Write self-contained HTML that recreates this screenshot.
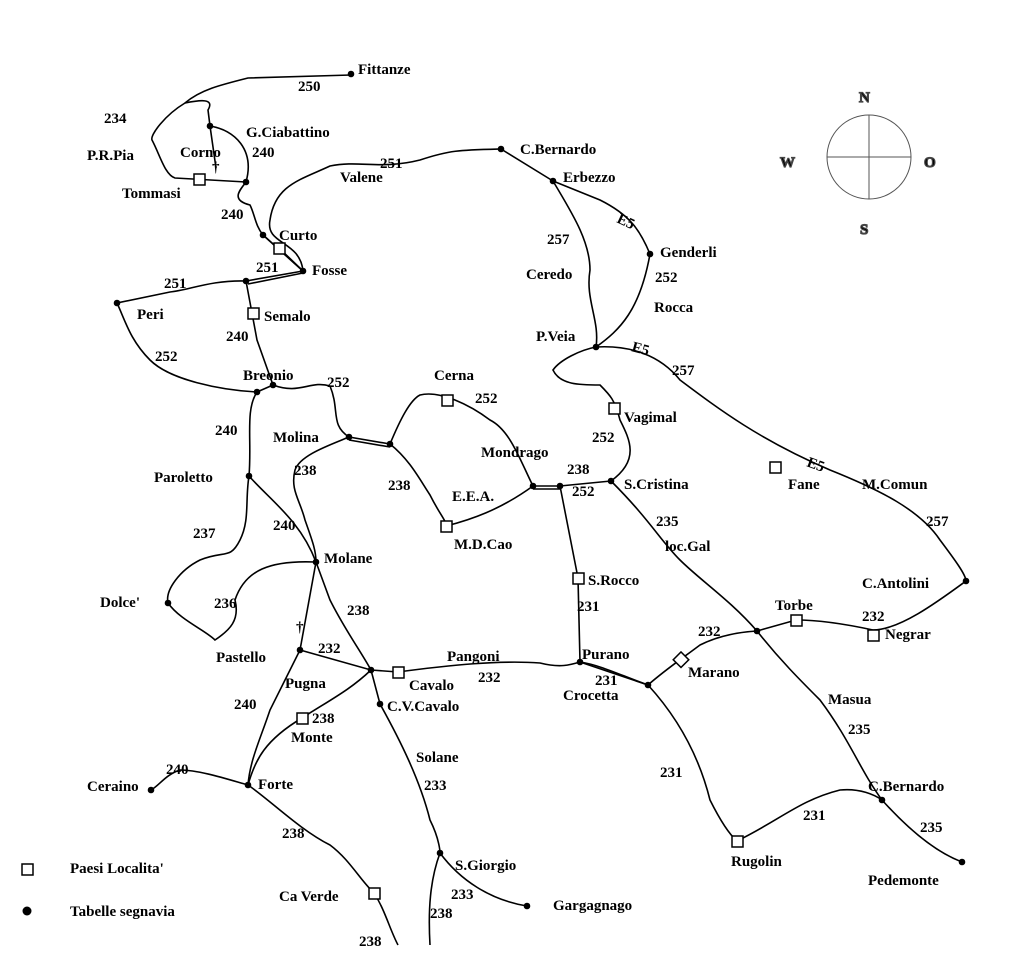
<!DOCTYPE html>
<html><head><meta charset="utf-8"><style>
html,body{margin:0;padding:0;background:#fff;}
svg{display:block}
text{font-family:"Liberation Serif",serif;font-weight:bold;font-size:15px;fill:#000;}
</style></head><body>
<svg width="1024" height="967" viewBox="0 0 1024 967" xmlns="http://www.w3.org/2000/svg">
<rect width="1024" height="967" fill="#fff"/>
<g fill="none" stroke="#000" stroke-width="1.6">
<path d="M351,75 L248,78 C220,85 200,90 185,103 C165,115 150,135 152,140 C160,155 165,175 175,178 L246,182"/>
<path d="M185,103 C200,100 215,98 208,110 L210,126 L216,168"/>
<path d="M210,126 C235,130 255,150 246,182"/>
<path d="M246,182 C240,190 230,200 250,205 C255,215 255,225 263,235 L303,271 L279,248"/>
<path d="M263,235 L303,271"/>
<path d="M303,271 C300,240 265,245 270,220 C275,185 300,180 330,166 C360,160 380,170 420,160 C450,150 460,150 501,149 L553,181"/>
<path d="M303,271 L246,281 M303,273 L248,284"/>
<path d="M246,281 C210,280 190,290 170,292 L117,303 C125,320 130,340 150,360 C170,380 220,390 257,392"/>
<path d="M246,281 L257,340 L273,385"/>
<path d="M257,392 L273,385 C300,395 310,380 330,386"/>
<path d="M257,392 C245,410 252,440 249,476 C245,500 250,520 240,540 C230,560 225,550 200,560 C180,570 165,590 168,603 C180,620 205,630 215,640 C230,630 240,620 235,600 C245,570 270,560 316,562"/>
<path d="M249,476 C270,500 300,520 316,562 L330,600 C345,630 360,650 371,670"/>
<path d="M330,386 C340,410 330,425 349,437 L390,444 M349,440 L390,447"/>
<path d="M349,437 C330,445 300,455 295,470 C290,490 300,500 305,520 C312,540 316,550 316,562"/>
<path d="M390,444 C400,420 410,400 420,395 C440,390 470,405 490,420 C510,430 520,460 533,486 L560,486 L611,481 M533,489 L560,489"/>
<path d="M390,444 C410,460 420,480 430,495 C440,515 446,520 446,526 C470,520 500,510 533,486"/>
<path d="M560,486 L578,578 L580,662"/>
<path d="M611,481 C640,460 630,440 620,420 C615,400 610,395 600,385 C580,385 560,385 553,370 C560,360 580,350 596,347 C620,330 640,310 650,254 C640,230 630,215 600,200 L553,181 C570,210 590,240 590,270 C585,300 600,320 596,347"/>
<path d="M596,347 C630,345 660,355 680,380 C720,410 760,440 830,470 C880,490 920,510 940,540 C955,560 966,575 966,581 C940,600 900,630 873,630 C850,625 820,620 796,620 L757,631"/>
<path d="M300,650 L316,562"/>
<path d="M300,650 L371,670 L398,672 C450,665 500,660 540,663 C560,668 570,665 580,662 L648,685 C665,670 680,660 700,645 C720,635 740,632 757,631"/>
<path d="M580,662 C600,665 620,675 648,685"/>
<path d="M611,481 C650,520 660,540 680,560 C700,580 730,600 757,631 C780,660 800,680 820,700 C850,740 860,770 882,800 C900,820 930,850 962,862"/>
<path d="M648,685 C680,720 700,760 710,800 C720,820 730,835 737,841 C780,820 800,800 840,790 C860,788 875,795 882,800"/>
<path d="M300,650 C290,670 280,690 270,710 C260,740 250,760 248,785 C230,780 200,770 180,770 C165,775 160,785 151,790"/>
<path d="M248,785 C270,800 300,830 330,845 C350,860 360,880 374,893 C385,910 390,930 398,945"/>
<path d="M248,785 C255,760 265,740 302,718 C330,700 350,690 371,670"/>
<path d="M371,670 L380,704 C400,740 420,780 430,820 C440,840 440,853 440,853 C430,880 428,910 430,945"/>
<path d="M440,853 C460,880 490,900 527,906"/>
</g>
<g fill="#000">
<circle cx="351" cy="74" r="3.3"/><circle cx="210" cy="126" r="3.3"/><circle cx="246" cy="182" r="3.3"/><circle cx="263" cy="235" r="3.3"/><circle cx="303" cy="271" r="3.3"/><circle cx="117" cy="303" r="3.3"/><circle cx="246" cy="281" r="3.3"/><circle cx="257" cy="392" r="3.3"/><circle cx="273" cy="385" r="3.3"/><circle cx="349" cy="437" r="3.3"/><circle cx="390" cy="444" r="3.3"/><circle cx="249" cy="476" r="3.3"/><circle cx="316" cy="562" r="3.3"/><circle cx="168" cy="603" r="3.3"/><circle cx="300" cy="650" r="3.3"/><circle cx="371" cy="670" r="3.3"/><circle cx="380" cy="704" r="3.3"/><circle cx="248" cy="785" r="3.3"/><circle cx="151" cy="790" r="3.3"/><circle cx="440" cy="853" r="3.3"/><circle cx="527" cy="906" r="3.3"/><circle cx="501" cy="149" r="3.3"/><circle cx="553" cy="181" r="3.3"/><circle cx="650" cy="254" r="3.3"/><circle cx="596" cy="347" r="3.3"/><circle cx="533" cy="486" r="3.3"/><circle cx="560" cy="486" r="3.3"/><circle cx="611" cy="481" r="3.3"/><circle cx="580" cy="662" r="3.3"/><circle cx="648" cy="685" r="3.3"/><circle cx="757" cy="631" r="3.3"/><circle cx="966" cy="581" r="3.3"/><circle cx="882" cy="800" r="3.3"/><circle cx="962" cy="862" r="3.3"/><circle cx="27" cy="911" r="4.5"/>
</g>
<g fill="#fff" stroke="#000" stroke-width="1.5">
<rect x="194" y="174" width="11" height="11"/><rect x="274" y="243" width="11" height="11"/><rect x="248" y="308" width="11" height="11"/><rect x="442" y="395" width="11" height="11"/><rect x="609" y="403" width="11" height="11"/><rect x="770" y="462" width="11" height="11"/><rect x="441" y="521" width="11" height="11"/><rect x="573" y="573" width="11" height="11"/><rect x="791" y="615" width="11" height="11"/><rect x="868" y="630" width="11" height="11"/><rect x="676" y="654" width="11" height="11" transform="rotate(45 681 659)"/><rect x="393" y="667" width="11" height="11"/><rect x="297" y="713" width="11" height="11"/><rect x="369" y="888" width="11" height="11"/><rect x="732" y="836" width="11" height="11"/><rect x="22" y="864" width="11" height="11"/>
</g>
<g stroke="#555" fill="none" stroke-width="1"><circle cx="869" cy="157" r="42"/><line x1="827" y1="157" x2="911" y2="157"/><line x1="869" y1="115" x2="869" y2="199"/></g>
<g style="font-size:26px;fill:#fff;stroke:#444;stroke-width:1.2"><text x="859" y="102">N</text><text x="860" y="234">S</text><text x="780" y="167">W</text><text x="924" y="167">O</text></g>
<text x="358" y="74">Fittanze</text><text x="298" y="91">250</text><text x="104" y="123">234</text><text x="246" y="137">G.Ciabattino</text><text x="87" y="160">P.R.Pia</text><text x="180" y="157">Corno</text><text x="252" y="157">240</text><text x="212" y="172">†</text><text x="122" y="198">Tommasi</text><text x="380" y="168">251</text><text x="340" y="182">Valene</text><text x="221" y="219">240</text><text x="279" y="240">Curto</text><text x="256" y="272">251</text><text x="312" y="275">Fosse</text><text x="164" y="288">251</text><text x="137" y="319">Peri</text><text x="264" y="321">Semalo</text><text x="226" y="341">240</text><text x="155" y="361">252</text><text x="243" y="380">Breonio</text><text x="327" y="387">252</text><text x="520" y="154">C.Bernardo</text><text x="563" y="182">Erbezzo</text><text x="616" y="222" transform="rotate(25 616 222)">E5</text><text x="660" y="257">Genderli</text><text x="547" y="244">257</text><text x="655" y="282">252</text><text x="526" y="279">Ceredo</text><text x="654" y="312">Rocca</text><text x="536" y="341">P.Veia</text><text x="631" y="351" transform="rotate(15 631 351)">E5</text><text x="672" y="375">257</text><text x="434" y="380">Cerna</text><text x="475" y="403">252</text><text x="624" y="422">Vagimal</text><text x="592" y="442">252</text><text x="215" y="435">240</text><text x="273" y="442">Molina</text><text x="294" y="475">238</text><text x="481" y="457">Mondrago</text><text x="567" y="474">238</text><text x="388" y="490">238</text><text x="452" y="501">E.E.A.</text><text x="572" y="496">252</text><text x="624" y="489">S.Cristina</text><text x="806" y="466" transform="rotate(20 806 466)">E5</text><text x="788" y="489">Fane</text><text x="862" y="489">M.Comun</text><text x="154" y="482">Paroletto</text><text x="193" y="538">237</text><text x="273" y="530">240</text><text x="656" y="526">235</text><text x="926" y="526">257</text><text x="454" y="549">M.D.Cao</text><text x="665" y="551">loc.Gal</text><text x="324" y="563">Molane</text><text x="588" y="585">S.Rocco</text><text x="862" y="588">C.Antolini</text><text x="100" y="607">Dolce'</text><text x="214" y="608">236</text><text x="347" y="615">238</text><text x="577" y="611">231</text><text x="775" y="610">Torbe</text><text x="862" y="621">232</text><text x="296" y="632">†</text><text x="698" y="636">232</text><text x="885" y="639">Negrar</text><text x="216" y="662">Pastello</text><text x="318" y="653">232</text><text x="447" y="661">Pangoni</text><text x="582" y="659">Purano</text><text x="688" y="677">Marano</text><text x="285" y="688">Pugna</text><text x="409" y="690">Cavalo</text><text x="478" y="682">232</text><text x="595" y="685">231</text><text x="563" y="700">Crocetta</text><text x="828" y="704">Masua</text><text x="387" y="711">C.V.Cavalo</text><text x="234" y="709">240</text><text x="312" y="723">238</text><text x="291" y="742">Monte</text><text x="848" y="734">235</text><text x="416" y="762">Solane</text><text x="166" y="774">240</text><text x="660" y="777">231</text><text x="87" y="791">Ceraino</text><text x="258" y="789">Forte</text><text x="424" y="790">233</text><text x="868" y="791">C.Bernardo</text><text x="803" y="820">231</text><text x="282" y="838">238</text><text x="920" y="832">235</text><text x="455" y="870">S.Giorgio</text><text x="731" y="866">Rugolin</text><text x="868" y="885">Pedemonte</text><text x="70" y="873">Paesi Localita'</text><text x="451" y="899">233</text><text x="279" y="901">Ca Verde</text><text x="553" y="910">Gargagnago</text><text x="70" y="916">Tabelle segnavia</text><text x="430" y="918">238</text><text x="359" y="946">238</text>
</svg>
</body></html>
